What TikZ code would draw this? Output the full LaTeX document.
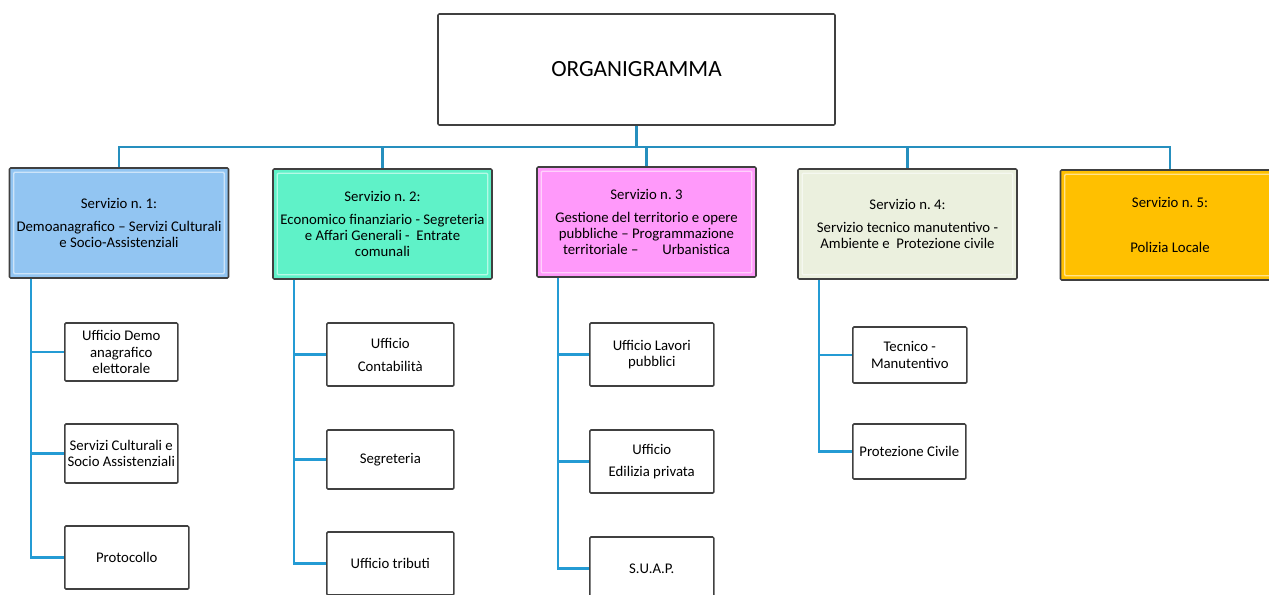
\documentclass[tikz,border=0pt]{standalone}
\usepackage{fontspec}
\setmainfont{Carlito}
\usepackage{tikz}
\usetikzlibrary{calc}
\usepackage{xcolor}
\definecolor{boxgray}{RGB}{64,64,64}
\definecolor{linkblue}{RGB}{38,143,190}
\definecolor{sublinkblue}{RGB}{36,155,212}
\definecolor{servA}{RGB}{146,197,242}
\definecolor{servB}{RGB}{95,242,200}
\definecolor{servC}{RGB}{255,153,250}
\definecolor{servD}{RGB}{235,240,222}
\definecolor{servE}{RGB}{255,192,0}
\newcommand\pxu{0.025cm}
\frenchspacing
\tikzstyle{topbox}=[draw=boxgray, line width=1.1pt, rounded corners=0.8pt, minimum width=397*\pxu, minimum height=111*\pxu, inner sep=0pt, font=\fontsize{16.5}{20}\selectfont]
\tikzstyle{servbox}=[draw=boxgray, line width=1.1pt, rounded corners=0.8pt, minimum width=219*\pxu, minimum height=110*\pxu, inner sep=0pt, align=center, font=\fontsize{10.5}{11.4}\selectfont,
  path picture={\draw[white, opacity=.55, line width=1pt] ([xshift=3pt,yshift=-3pt]path picture bounding box.north west) rectangle ([xshift=-3pt,yshift=3pt]path picture bounding box.south east);}]
\tikzstyle{uffbox}=[draw=boxgray, line width=1.1pt, rounded corners=0.8pt, inner sep=0pt, align=center, font=\fontsize{10.5}{11.8}\selectfont]
\tikzstyle{link}=[draw=linkblue, line width=1.5pt]
\tikzstyle{sublink}=[draw=sublinkblue, line width=1.6pt]

\begin{document}
\begin{tikzpicture}[x=\pxu, y=-\pxu]
\useasboundingbox (0,0) rectangle (1269,594);
\node[topbox] (org) at (636.5,69.5) {ORGANIGRAMMA};
\coordinate (bus) at (636,147);
% servizi
\foreach \n/\x/\y/\c/\t in {
 1/119/223/servA/{Servizio n. 1:\\[5pt]Demoanagrafico – Servizi Culturali\\e Socio-Assistenziali},
 2/382.5/224/servB/{Servizio n. 2:\\[5pt]Economico finanziario - Segreteria\\e Affari Generali -\ \ Entrate\\comunali},
 3/646.5/222/servC/{Servizio n. 3\\[5pt]Gestione del territorio e opere\\pubbliche – Programmazione\\territoriale –\hspace{17pt}Urbanistica},
 4/907.5/224/servD/{Servizio n. 4:\\[5pt]Servizio tecnico manutentivo -\\Ambiente e\ \ Protezione civile},
 5/1170/225/servE/{Servizio n. 5:\\[21pt]Polizia Locale}} {
 \node[servbox, fill=\c] (s\n) at (\x,\y) {\t};
 \draw[link] (org.south) -- (org.south |- bus) -| (s\n.north);
 \coordinate (r\n) at ([xshift=22*\pxu]s\n.south west);
}
% uffici
\foreach \p/\n/\x/\y/\w/\h/\t in {
 1/a/64/352/113/58/{Ufficio Demo\\anagrafico\\elettorale},
 1/b/64/453.5/113/59/{Servizi Culturali e\\Socio Assistenziali},
 1/c/64/557.5/124/63/{Protocollo},
 2/a/326/354.5/127/63/{Ufficio\\[4.6pt]Contabilità},
 2/b/326/459.5/127/59/{Segreteria},
 2/c/326/563.5/127/63/{Ufficio tributi},
 3/a/589/354.5/124/63/{Ufficio Lavori\\pubblici},
 3/b/589/461.5/124/63/{Ufficio\\[4pt]Edilizia privata},
 3/c/589/568.5/124/63/{S.U.A.P.},
 4/a/852/355/114/56/{Tecnico -\\Manutentivo},
 4/b/852/451.5/113/55/{Protezione Civile}} {
 \node[uffbox, anchor=west, minimum width=\w*\pxu, minimum height=\h*\pxu] (u\p\n) at (\x,\y) {\t};
 \draw[sublink] (r\p) |- (u\p\n.west);
}
\end{tikzpicture}
\end{document}
